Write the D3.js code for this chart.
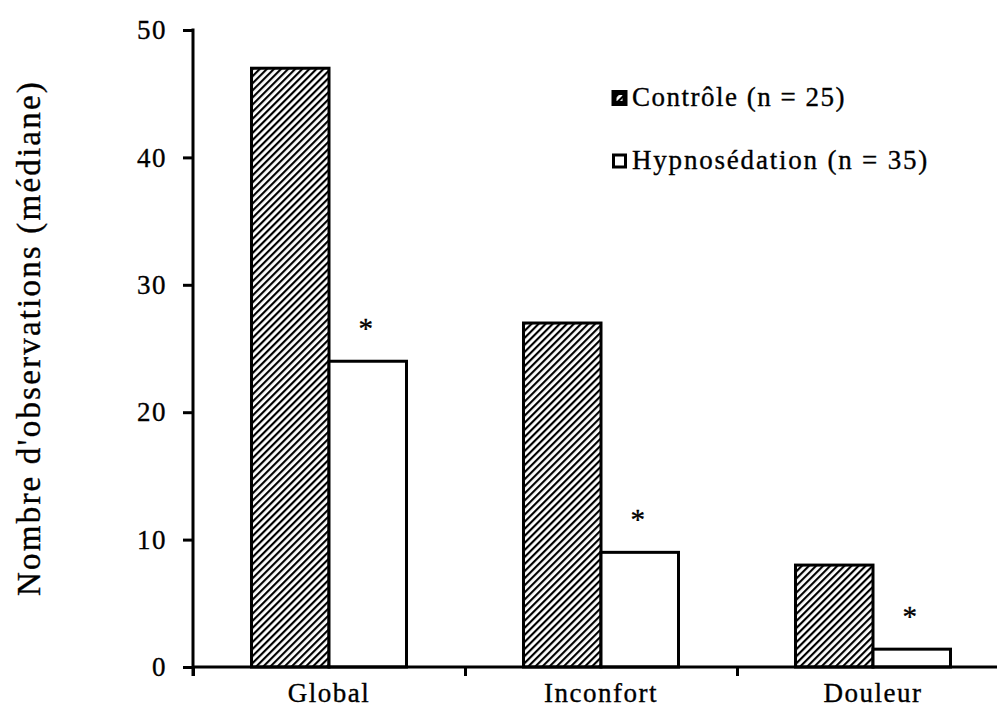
<!DOCTYPE html>
<html>
<head>
<meta charset="utf-8">
<script src="https://cdn.jsdelivr.net/npm/d3@7"></script>
<style>
  body { margin: 0; background: #fff; }
  svg text { font-family: "Liberation Serif", "Times New Roman", serif; fill: #000; stroke: #000; stroke-width: 0.35px; }
</style>
</head>
<body>
<svg id="chart" width="997" height="715"></svg>
<script>
// data
const categories = ["Global", "Inconfort", "Douleur"];
const series = ["Contrôle (n = 25)", "Hypnosédation (n = 35)"];
const controle = [47, 27, 8];
const hypnosedation = [24, 9, 1.4];
const significant = [true, true, true];
const yTicks = [0, 10, 20, 30, 40, 50];

const svg = d3.select("#chart");

svg.append("rect").attr("width", 997).attr("height", 715).attr("fill", "#fff");

// hatch for the control group
const defs = svg.append("defs");
defs.append("pattern")
    .attr("id", "hatch")
    .attr("patternUnits", "userSpaceOnUse")
    .attr("width", 5)
    .attr("height", 5)
    .attr("patternTransform", "rotate(45)")
  .call(p => {
      p.append("rect").attr("width", 5).attr("height", 5).attr("fill", "#fff");
      p.append("line").attr("x1", 1).attr("y1", 0).attr("x2", 1).attr("y2", 5)
          .attr("stroke", "#000").attr("stroke-width", 2.3);
  });

const x0 = d3.scaleBand().domain(categories).range([193, 1009]);
const x1 = d3.scaleBand().domain([0, 1]).range([0, x0.bandwidth()]).paddingOuter(0.755);
const y = d3.scaleLinear().domain([0, 50]).range([667, 30]);

const rows = categories.map((c, i) => ({
    cat: c,
    vals: [controle[i], hypnosedation[i]],
    star: significant[i]
}));

// bars
const grp = svg.append("g").selectAll("g")
    .data(rows)
    .join("g")
    .attr("transform", d => `translate(${x0(d.cat)},0)`);

grp.selectAll("rect")
    .data(d => d.vals.map((v, k) => ({ v, k })))
    .join("rect")
    .attr("x", d => x1(d.k))
    .attr("y", d => y(d.v))
    .attr("width", x1.bandwidth())
    .attr("height", d => y(0) - y(d.v))
    .attr("fill", d => d.k === 0 ? "url(#hatch)" : "#fff")
    .attr("stroke", "#000")
    .attr("stroke-width", 3);

grp.filter(d => d.star).append("text")
    .attr("x", x1(1) + x1.bandwidth() / 2 - 2)
    .attr("y", d => y(d.vals[1]) - 23)
    .attr("text-anchor", "middle")
    .style("font-size", "29px")
    .text("*");

// y axis
const yAxis = svg.append("g")
    .attr("transform", "translate(193,0)")
    .call(d3.axisLeft(y).tickValues(yTicks).tickSize(10).tickSizeOuter(0).tickPadding(16));
yAxis.select(".domain").remove();
yAxis.selectAll(".tick line").attr("stroke-width", 3);
yAxis.selectAll(".tick text")
    .style("font-size", "27px")
    .style("letter-spacing", "1.5px")
    .style("font-family", "Liberation Serif");
yAxis.append("line")
    .attr("x1", 0).attr("x2", 0)
    .attr("y1", y(50) - 1.5).attr("y2", y(0) + 9)
    .attr("stroke", "#000").attr("stroke-width", 3);

// x axis: boundary ticks and labels
const xb = d3.scaleLinear().domain([0, 3]).range([193, 1009]);
const xTicks = svg.append("g")
    .attr("transform", `translate(0,${y(0)})`)
    .call(d3.axisBottom(xb).tickValues([0, 1, 2]).tickFormat("").tickSize(9).tickSizeOuter(0));
xTicks.select(".domain").remove();
xTicks.selectAll(".tick line").attr("stroke-width", 3);
xTicks.append("line")
    .attr("x1", 193).attr("x2", 997)
    .attr("stroke", "#000").attr("stroke-width", 3);

const xAxis = svg.append("g")
    .attr("transform", `translate(0,${y(0)})`)
    .call(d3.axisBottom(x0).tickSize(0).tickPadding(16));
xAxis.select(".domain").remove();
xAxis.selectAll(".tick text")
    .style("font-size", "27px")
    .style("letter-spacing", "1.5px")
    .style("font-family", "Liberation Serif");

// y label
svg.append("text")
    .attr("transform", "translate(40,338) rotate(-90)")
    .attr("text-anchor", "middle")
    .style("font-size", "33px")
    .style("letter-spacing", "2.2px")
    .text("Nombre d'observations (médiane)");

// legend
const legend = svg.append("g")
    .selectAll("g")
    .data(series)
    .join("g")
    .attr("transform", (d, i) => `translate(612,${106 + i * 63})`);

legend.append("rect")
    .attr("x", (d, i) => i === 0 ? 2 : 1.5)
    .attr("y", (d, i) => i === 0 ? -13.5 : -14)
    .attr("width", (d, i) => i === 0 ? 11 : 12)
    .attr("height", (d, i) => i === 0 ? 11 : 12)
    .attr("fill", (d, i) => i === 0 ? "url(#hatch)" : "#fff")
    .attr("stroke", "#000")
    .attr("stroke-width", (d, i) => i === 0 ? 5 : 3);

legend.append("text")
    .attr("x", 20)
    .attr("y", 0)
    .style("font-size", "27px")
    .style("letter-spacing", (d, i) => i === 0 ? "1.5px" : "1.8px")
    .text(d => d);
</script>
</body>
</html>
